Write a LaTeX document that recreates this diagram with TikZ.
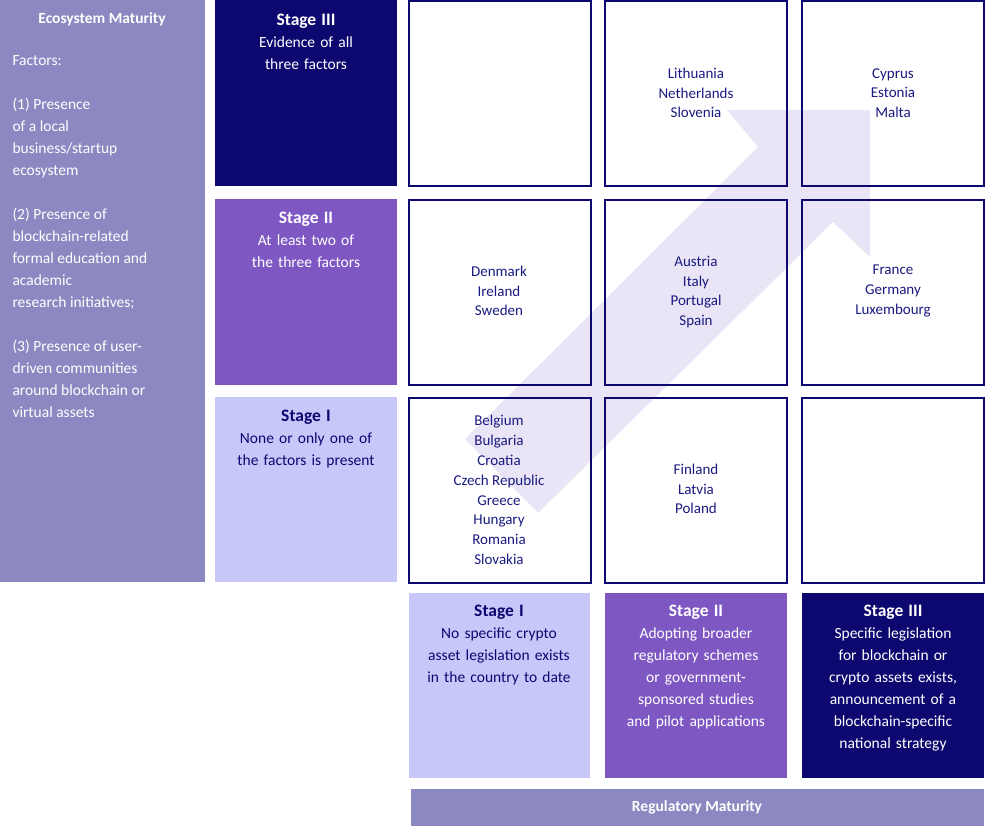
\documentclass[tikz,border=0pt]{standalone}
\usepackage{fontspec}
\setmainfont{Carlito}
\newcommand\stgh[1]{{\bfseries\fontsize{17.5}{22}\selectfont #1}}
\begin{document}
\definecolor{navy}{HTML}{0C0870}
\definecolor{purp}{HTML}{7E57C2}
\definecolor{lite}{HTML}{C7C7FA}
\definecolor{grey}{HTML}{8C88C1}
\definecolor{txt}{HTML}{1A1A80}
\definecolor{arr}{HTML}{DCD4F0}
\begin{tikzpicture}[x=1pt,y=-1pt,
 cell/.style={draw=navy,line width=1.6pt},
 ctext/.style={text=txt,align=center,font=\fontsize{15}{19.8}\selectfont},
 stext/.style={align=center,font=\fontsize{15.5}{22}\selectfont,text width=170pt}]
\useasboundingbox (0,0) rectangle (985,827);
% arrow
\fill[arr,opacity=0.6] (465,439) -- (758,147) -- (727,110) -- (870,110) -- (870,257) -- (833,222) -- (538,513) -- cycle;
% left column
\fill[grey] (0,0) rectangle (205,582);
\node[anchor=north,text=white,font=\bfseries\fontsize{15.5}{20}\selectfont] (eco) at (102,9) {Ecosystem Maturity};
\node[anchor=north west,text=white,align=left,font=\fontsize{15.5}{22}\selectfont] (fac) at (9,52)
 {Factors:\\[22pt](1) Presence\\of a local\\business/startup\\ecosystem\\[22pt](2) Presence of\\blockchain-related\\formal education and\\academic\\research initiatives;\\[22pt](3) Presence of user-\\driven communities\\around blockchain or\\virtual assets};
% stage rows
\fill[navy] (215,0) rectangle (397,186);
\fill[purp] (215,199) rectangle (397,385);
\fill[lite] (215,397) rectangle (397,582);
\node[anchor=north,text=white,stext] (r3) at (306,10) {\stgh{Stage III}\\Evidence of all three factors};
\node[anchor=north,text=white,stext] (r2) at (306,208) {\stgh{Stage II}\\At least two of the three factors};
\node[anchor=north,text=navy,stext] (r1) at (306,406) {\stgh{Stage I}\\None or only one of the factors is present};
% grid
\foreach \x in {409,605,802}{\foreach \y in {0,199,397}{\draw[cell] (\x,\y+1) rectangle (\x+182,\y+186);}}
\node[ctext] (c32) at (696,93) {Lithuania\\Netherlands\\Slovenia};
\node[ctext] (c33) at (893,93) {Cyprus\\Estonia\\Malta};
\node[ctext] (c21) at (499,291) {Denmark\\Ireland\\Sweden};
\node[ctext] (c22) at (696,292) {Austria\\Italy\\Portugal\\Spain};
\node[ctext] (c23) at (893,291) {France\\Germany\\Luxembourg};
\node[ctext] (c11) at (499,490) {Belgium\\Bulgaria\\Croatia\\Czech Republic\\Greece\\Hungary\\Romania\\Slovakia};
\node[ctext] (c12) at (696,489) {Finland\\Latvia\\Poland};
% bottom stages
\fill[lite] (409,593) rectangle (590,778);
\fill[purp] (605,593) rectangle (787,778);
\fill[navy] (802,593) rectangle (984,778);
\node[anchor=north,text=navy,stext,text width=150pt] (b1) at (499,601) {\stgh{Stage I}\\No specific crypto asset legislation exists in the country to date};
\node[anchor=north,text=white,stext,text width=160pt] (b2) at (696,601) {\stgh{Stage II}\\Adopting broader regulatory schemes or government-sponsored studies and pilot applications};
\node[anchor=north,text=white,stext,text width=160pt] (b3) at (893,601) {\stgh{Stage III}\\Specific legislation for blockchain or crypto assets exists, announcement of a blockchain-specific national strategy};
\fill[grey] (411,789) rectangle (984,826);
\node[text=white,font=\bfseries\fontsize{15.5}{20}\selectfont] (reg) at (697,807) {Regulatory Maturity};
\end{tikzpicture}
\end{document}
